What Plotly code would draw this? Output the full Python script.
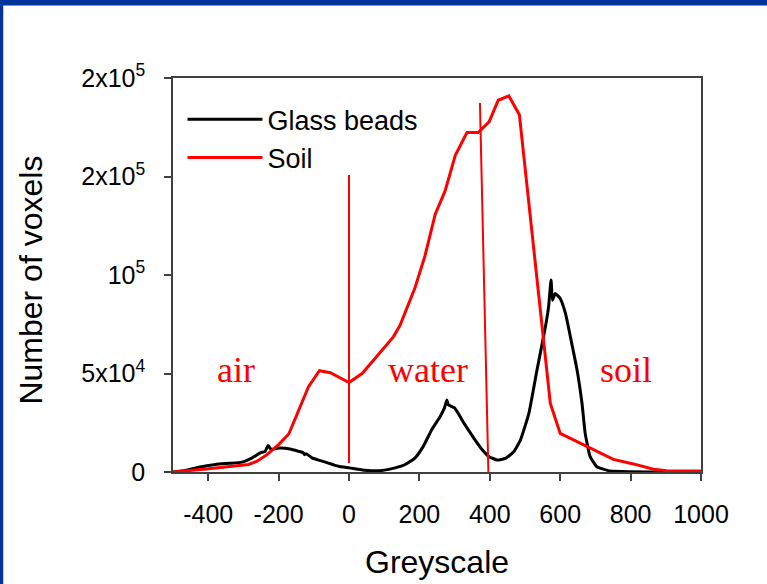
import plotly.graph_objects as go

# ---- data ----
glass_x = [-500, -465, -427, -379, -340, -304, -275, -252, -238, -230, -221, -200, -167, -143,
           -130, -126, -122, -105, -67, -30, 2, 46, 93, 131, 160, 188, 211, 235, 259, 271, 278,
           282, 300, 327, 355, 379, 398, 421, 445, 468, 487, 511, 534, 558, 567, 574, 578, 586,
           600, 615, 629, 648, 662, 671, 685, 704, 742, 800, 900, 1000]
glass_y = [0, 760, 2400, 3800, 4400, 5000, 7200, 9700, 10500, 13400, 11400, 12200, 11700, 10500,
           9800, 8800, 9300, 7200, 5000, 2900, 2100, 900, 760, 2100, 3800, 7200, 13000, 21500, 28200, 32400, 36600,
           34100, 32500, 24700, 17100, 11200, 7800, 6100, 6900, 10300, 16200, 29800, 51700, 73700, 83800, 97400, 87200, 90600,
           88100, 80500, 68600, 51700, 34800, 19600, 7800, 2700, 500, 100, 0, 0]

soil_x = [-500, -398, -285, -261, -233, -200, -171, -143, -115, -84, -53, 0, 38, 126, 145, 188,
          216, 245, 273, 302, 335, 367, 398, 424, 454, 484, 572, 600, 676, 751, 808, 865, 902, 1000]
soil_y = [0, 1600, 3800, 5500, 8800, 13900, 19300, 31600, 43300, 51400, 50400, 45400, 50100, 68600, 74500, 93800,
          109800, 130900, 142700, 160800, 172300, 172300, 177700, 188700, 190900, 181400, 34800, 19600, 12800, 6400, 4100, 1400, 650, 500]

# threshold lines (air/water and water/soil)
thr1_x = [0, 0]
thr1_y = [4600, 150700]
thr2_x = [372, 396]
thr2_y = [187300, 0]

x_ticks = [-400, -200, 0, 200, 400, 600, 800, 1000]
x_tick_text = ["-400", "-200", "0", "200", "400", "600", "800", "1000"]
y_ticks = [0, 50000, 100000, 150000, 200000]
y_tick_text = ["0", "5x10<sup>4</sup>", "10<sup>5</sup>", "2x10<sup>5</sup>", "2x10<sup>5</sup>"]

regions = ["air", "water", "soil"]
region_x = [-320, 223, 788]
region_y = [51800, 51800, 51800]

FONT = "Arial, Liberation Sans, sans-serif"
SERIF = "Times New Roman, Liberation Serif, serif"

fig = go.Figure()
fig.add_trace(go.Scatter(x=glass_x, y=glass_y, mode="lines", name="Glass beads",
                         line=dict(color="black", width=3, shape="spline", smoothing=0.4)))
fig.add_trace(go.Scatter(x=soil_x, y=soil_y, mode="lines", name="Soil",
                         line=dict(color="#ff0000", width=3)))
fig.add_trace(go.Scatter(x=thr1_x, y=thr1_y, mode="lines", showlegend=False,
                         line=dict(color="#ff0000", width=2)))
fig.add_trace(go.Scatter(x=thr2_x, y=thr2_y, mode="lines", showlegend=False,
                         line=dict(color="#ff0000", width=2)))

for t, xx, yy in zip(regions, region_x, region_y):
    fig.add_annotation(x=xx, y=yy, text=t, showarrow=False, xanchor="center", yanchor="middle",
                       font=dict(family=SERIF, size=36, color="#ff0000"))

W, H = 767, 584
L, R, T, B = 172.5, 701.25, 77.7, 472.5
pw, ph = R - L, B - T

def px(xp):
    return (xp - L) / pw

def py(yp):
    return (B - yp) / ph

# axis titles
fig.add_annotation(xref="paper", yref="paper", x=px(30), y=py(280), text="Number of voxels",
                   textangle=-90, showarrow=False, xanchor="center", yanchor="middle",
                   font=dict(family=FONT, size=32, color="black"))
fig.add_annotation(xref="paper", yref="paper", x=px(437), y=py(563), text="Greyscale",
                   showarrow=False, xanchor="center", yanchor="middle",
                   font=dict(family=FONT, size=32, color="black"))

# slide frame (blue bars)
fig.add_shape(type="rect", xref="paper", yref="paper", x0=px(-2), x1=px(W + 2), y0=py(5), y1=py(-2),
              fillcolor="#003399", line=dict(width=0), layer="above")
fig.add_shape(type="rect", xref="paper", yref="paper", x0=px(-2), x1=px(2.5), y0=py(H + 2), y1=py(-2),
              fillcolor="#003399", line=dict(width=0), layer="above")

axis_common = dict(showline=True, mirror=True, linecolor="#404040", linewidth=1.5,
                   ticks="outside", tickcolor="#404040", ticklen=7, tickwidth=1.5,
                   showgrid=False, zeroline=False,
                   tickfont=dict(family=FONT, size=25, color="black"))

fig.update_layout(
    width=W, height=H,
    margin=dict(l=L, r=W - R, t=T, b=H - B, autoexpand=False),
    paper_bgcolor="white", plot_bgcolor="white",
    xaxis=dict(range=[-500, 1000], tickvals=x_ticks, ticktext=x_tick_text, ticklabelstandoff=12, **axis_common),
    yaxis=dict(range=[0, 200000], tickvals=y_ticks, ticktext=y_tick_text, ticklabelstandoff=14, **axis_common),
    legend=dict(x=px(182), y=py(95), xanchor="left", yanchor="top", bgcolor="rgba(0,0,0,0)",
                font=dict(family=FONT, size=27, color="black"), itemwidth=75, tracegroupgap=0),
    showlegend=True,
)

fig.write_html("out.html", config={"displayModeBar": False},
               post_script="document.body.style.margin='0px';document.body.style.padding='0px';")
